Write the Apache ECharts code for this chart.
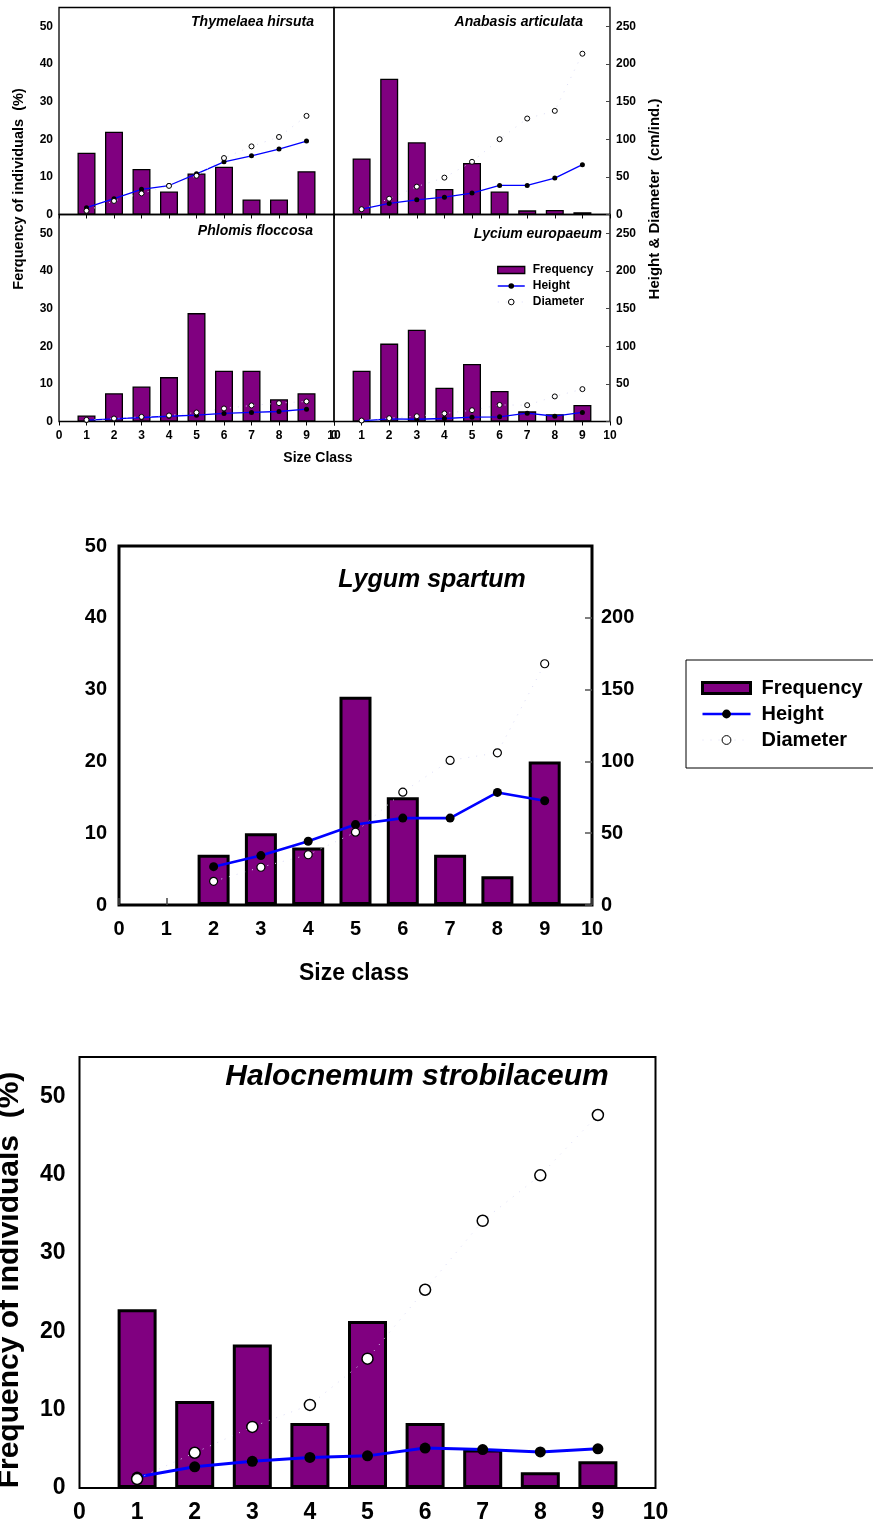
<!DOCTYPE html>
<html><head><meta charset="utf-8">
<script src="https://cdn.jsdelivr.net/npm/echarts@6.0.0/dist/echarts.min.js"></script>
<style>html,body{margin:0;padding:0;background:#fff}#c{width:873px;height:1528px}</style>
</head><body><div id="c"></div>
<script>
// ---------- data ----------
const classes = [1, 2, 3, 4, 5, 6, 7, 8, 9];

const thymFreq   = [16.4, 22.0, 12.1, 6.1, 10.9, 12.7, 4.0, 4.0, 11.5];
const thymHeight = [9, 21, 33.5, 38.5, 54, 70, 78, 87, 97.5];
const thymDiam   = [5, 18, 28, 38, 51.5, 75, 90.5, 103, 131];

const anabFreq   = [14.9, 36.1, 19.2, 6.8, 13.7, 6.1, 1.1, 1.2, 0.6];
const anabHeight = [7, 14.7, 19.5, 23, 28.4, 38.6, 38.6, 48.4, 66.2];
const anabDiam   = [7, 21, 37, 49, 70, 100, 127.5, 137.7, 213.6];

const phloFreq   = [1.6, 7.5, 9.3, 11.8, 28.8, 13.5, 13.5, 5.9, 7.5];
const phloHeight = [1.8, 3.5, 5.3, 7, 8.4, 10.7, 12, 13.3, 16.4];
const phloDiam   = [2.2, 4, 6.2, 8, 12, 17.3, 21.3, 24.4, 26.6];

const lyciFreq   = [13.5, 20.7, 24.4, 9.0, 15.3, 8.1, 2.7, 1.9, 4.4];
const lyciHeight = [0.9, 3.6, 3, 4, 5.8, 6.2, 11, 7, 12];
const lyciDiam   = [1.3, 4.4, 7, 10.7, 15, 22, 21.7, 33.3, 43];

const lyguFreq   = [null, 7.0, 10.0, 8.0, 29.0, 15.0, 7.0, 4.0, 20.0];
const lyguHeight = [null, 26.7, 34.4, 44.4, 56, 60.5, 60.5, 78.4, 72.6];
const lyguDiam   = [null, 16.5, 26.3, 35, 50.7, 78.6, 100.7, 106, 168];

const haloFreq   = [22.8, 11.1, 18.3, 8.3, 21.3, 8.3, 4.9, 2.0, 3.4];
const haloHeight = [1.4, 2.7, 3.4, 3.9, 4.1, 5.1, 4.9, 4.6, 5.0];
const haloDiam   = [1.15, 4.5, 7.8, 10.6, 16.5, 25.3, 34.1, 39.9, 47.6];

// ---------- style ----------
const FONT = '"Liberation Sans", Arial, sans-serif';
const PURPLE = '#800080';
const BLUE = '#0000ff';
const DOT = '#dcdcf6';

function pairs(vals) { return classes.map((c, i) => [c, vals[i]]); }

const grids = [], xAxes = [], yAxes = [], series = [];

function addSeries(gi, yFreq, ySize, freq, height, diam, s) {
  series.push({
    type: 'bar', name: 'Frequency', xAxisIndex: gi, yAxisIndex: yFreq, data: pairs(freq),
    barWidth: s.barW, itemStyle: { color: PURPLE, borderColor: '#000', borderWidth: s.barB }, z: 2
  });
  series.push({
    type: 'line', name: 'Height', xAxisIndex: gi, yAxisIndex: ySize, data: pairs(height),
    symbol: 'circle', symbolSize: s.hSym, showAllSymbol: true,
    itemStyle: { color: '#000' }, lineStyle: { color: BLUE, width: s.hW }, z: 3
  });
  series.push({
    type: 'line', name: 'Diameter', xAxisIndex: gi, yAxisIndex: ySize, data: pairs(diam),
    symbol: 'circle', symbolSize: s.dSym, showAllSymbol: true,
    itemStyle: { color: '#fff', borderColor: '#000', borderWidth: s.dB },
    lineStyle: { color: DOT, width: 1, type: [1, 7] }, z: 4
  });
}

// small panels
const small = [
  { freq: thymFreq, height: thymHeight, diam: thymDiam, left: 59, top: 7.5, w: 275, left_: true, bottom: false },
  { freq: anabFreq, height: anabHeight, diam: anabDiam, left: 334, top: 7.5, w: 276, left_: false, bottom: false },
  { freq: phloFreq, height: phloHeight, diam: phloDiam, left: 59, top: 214.5, w: 275, left_: true, bottom: true },
  { freq: lyciFreq, height: lyciHeight, diam: lyciDiam, left: 334, top: 214.5, w: 276, left_: false, bottom: true }
];
const smallLabel = { fontSize: 12, fontWeight: 'bold', color: '#000', fontFamily: FONT };

small.forEach((p, i) => {
  grids.push({ left: p.left, top: p.top, width: p.w, height: 207, show: true, borderColor: '#000', borderWidth: 1.3 });
  xAxes.push({
    gridIndex: i, type: 'value', min: 0, max: 10, interval: 1,
    axisLine: { show: false }, splitLine: { show: false },
    axisTick: { show: true, inside: false, length: 4, lineStyle: { color: '#000', width: 1 } },
    axisLabel: Object.assign({ show: p.bottom, margin: 8 }, smallLabel)
  });
  const yf = yAxes.length;
  yAxes.push({
    gridIndex: i, type: 'value', min: 0, max: 55, interval: 10, position: 'left',
    axisLine: { show: false }, axisTick: { show: false }, splitLine: { show: false },
    axisLabel: Object.assign({ show: p.left_, showMaxLabel: false, margin: 6 }, smallLabel)
  });
  const ys = yAxes.length;
  yAxes.push({
    gridIndex: i, type: 'value', min: 0, max: 275, interval: 50, position: 'right',
    axisLine: { show: false }, splitLine: { show: false },
    axisTick: { show: !p.left_, inside: true, length: 4, lineStyle: { color: '#444', width: 1 } },
    axisLabel: Object.assign({ show: !p.left_, showMaxLabel: false, margin: 6 }, smallLabel)
  });
  addSeries(i, yf, ys, p.freq, p.height, p.diam, { barW: 18, barB: 1.3, hSym: 5, hW: 1.3, dSym: 5, dB: 1 });
});

// Lygum spartum (grid 4)
const midLabel = { fontSize: 20, fontWeight: 'bold', color: '#000', fontFamily: FONT };
grids.push({ left: 119, top: 546, width: 473, height: 359, show: true, borderColor: '#000', borderWidth: 3 });
xAxes.push({
  gridIndex: 4, type: 'value', min: 0, max: 10, interval: 1,
  axisLine: { show: false }, splitLine: { show: false },
  axisTick: { show: true, inside: true, length: 7, lineStyle: { color: '#444', width: 1.5 } },
  axisLabel: Object.assign({ margin: 14 }, midLabel)
});
let yf = yAxes.length;
yAxes.push({
  gridIndex: 4, type: 'value', min: 0, max: 50, interval: 10, position: 'left',
  axisLine: { show: false }, axisTick: { show: false }, splitLine: { show: false },
  axisLabel: Object.assign({ margin: 12 }, midLabel)
});
let ys = yAxes.length;
yAxes.push({
  gridIndex: 4, type: 'value', min: 0, max: 250, interval: 50, position: 'right',
  axisLine: { show: false }, splitLine: { show: false },
  axisTick: { show: true, inside: true, length: 7, lineStyle: { color: '#555', width: 1.5 } },
  axisLabel: Object.assign({ margin: 9, showMaxLabel: false }, midLabel)
});
addSeries(4, yf, ys, lyguFreq, lyguHeight, lyguDiam, { barW: 32, barB: 3, hSym: 9, hW: 2.6, dSym: 8, dB: 1.2 });

// Halocnemum strobilaceum (grid 5)
const bigLabel = { fontSize: 23, fontWeight: 'bold', color: '#000', fontFamily: FONT };
grids.push({ left: 79.5, top: 1057, width: 576, height: 431, show: true, borderColor: '#000', borderWidth: 2 });
xAxes.push({
  gridIndex: 5, type: 'value', min: 0, max: 10, interval: 1,
  axisLine: { show: false }, splitLine: { show: false }, axisTick: { show: false },
  axisLabel: Object.assign({ margin: 13 }, bigLabel)
});
yf = yAxes.length;
yAxes.push({
  gridIndex: 5, type: 'value', min: 0, max: 55, interval: 10, position: 'left',
  axisLine: { show: false }, axisTick: { show: false }, splitLine: { show: false },
  axisLabel: Object.assign({ margin: 14, showMaxLabel: false }, bigLabel)
});
addSeries(5, yf, yf, haloFreq, haloHeight, haloDiam, { barW: 39, barB: 3, hSym: 11, hW: 3, dSym: 11, dB: 1.5 });

// ---------- legends ----------
function legendData(s) {
  return [
    { name: 'Frequency', icon: 'rect', itemStyle: { color: PURPLE, borderColor: '#000', borderWidth: s.b } },
    { name: 'Height', itemStyle: { color: '#000', borderWidth: 0 }, lineStyle: { color: BLUE, width: s.lw } },
    { name: 'Diameter', itemStyle: { color: '#fff', borderColor: '#000', borderWidth: 1 }, lineStyle: { color: DOT, width: 1, type: [1, 7] } }
  ];
}
const legends = [
  {
    left: 497, top: 264, orient: 'vertical', padding: 0, itemWidth: 27, itemHeight: 7, itemGap: 4,
    selectedMode: false,
    textStyle: { fontSize: 12, fontWeight: 'bold', fontFamily: FONT, color: '#000', lineHeight: 12, padding: [0, 0, 0, 3] },
    data: legendData({ b: 1.3, lw: 1.5 })
  },
  {
    left: 701, top: 678, orient: 'vertical', padding: 0, itemWidth: 48, itemHeight: 11, itemGap: 6,
    selectedMode: false,
    textStyle: { fontSize: 20, fontWeight: 'bold', fontFamily: FONT, color: '#000', lineHeight: 20, padding: [0, 0, 0, 6] },
    data: legendData({ b: 3, lw: 2.5 })
  }
];

// ---------- text ----------
function txt(text, x, y, size, opts) {
  opts = opts || {};
  return {
    type: 'text', x: x, y: y, rotation: opts.rot || 0, z: 10,
    style: {
      text: text, fill: '#000', textAlign: opts.align || 'center', textVerticalAlign: 'middle',
      font: (opts.italic ? 'italic ' : '') + 'bold ' + size + 'px ' + FONT
    }
  };
}
const graphics = [
  { type: 'rect', shape: { x: 686, y: 660, width: 200, height: 108 }, style: { fill: '#fff', stroke: '#000', lineWidth: 1 }, z: 0 },
  txt('Thymelaea hirsuta', 314, 22, 14, { italic: true, align: 'right' }),
  txt('Anabasis articulata', 583, 22, 14, { italic: true, align: 'right' }),
  txt('Phlomis floccosa', 313, 231.5, 14, { italic: true, align: 'right' }),
  txt('Lycium europaeum', 602, 234, 14, { italic: true, align: 'right' }),
  txt('Ferquency of individuals  (%)', 18.5, 189, 14.5, { rot: Math.PI / 2 }),
  txt('Height & Diameter  (cm/ind.)', 655, 199, 15, { rot: Math.PI / 2 }),
  txt('Size Class', 318, 458, 14),
  txt('Lygum spartum', 432, 580, 25, { italic: true }),
  txt('Size class', 354, 974, 23),
  txt('Halocnemum strobilaceum', 417, 1077, 30, { italic: true }),
  txt('Frequency of individuals  (%)', 10, 1280, 30, { rot: Math.PI / 2 })
];

const chart = echarts.init(document.getElementById('c'), null, { renderer: 'canvas' });
chart.setOption({
  animation: false,
  backgroundColor: '#fff',
  textStyle: { fontFamily: FONT },
  grid: grids,
  xAxis: xAxes,
  yAxis: yAxes,
  legend: legends,
  series: series,
  graphic: { elements: graphics }
});
</script>
</body></html>
